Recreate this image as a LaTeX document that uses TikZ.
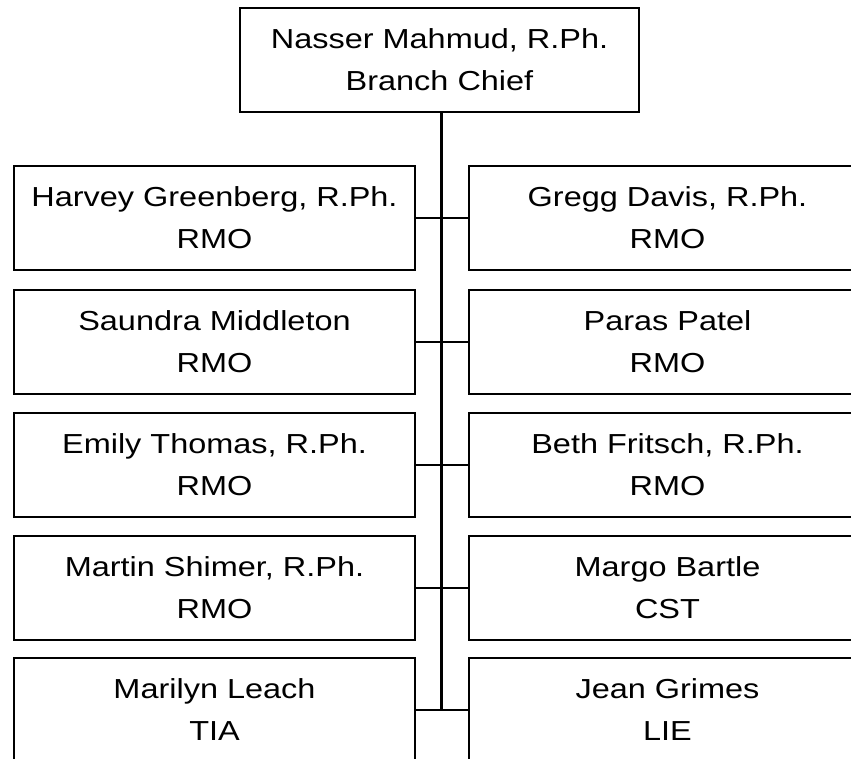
\documentclass[tikz,border=0pt]{standalone}
\usepackage{fontspec}
\setmainfont[FakeStretch=1.18]{Liberation Sans}
\begin{document}
\begin{tikzpicture}[x=1pt,y=-1pt,
  box/.style={draw, line width=2.3pt, rectangle, inner sep=0pt, align=center,
    minimum height=104pt, font=\fontsize{27.5}{42}\selectfont},
  lbox/.style={box, minimum width=401pt},
  rbox/.style={box, minimum width=397pt},
  link/.style={line width=2.2pt}]
\useasboundingbox (0,0) rectangle (851,759);
\clip (0,0) rectangle (851,759);
\node[box, minimum width=399pt] (chief) at (439.5,60) {Nasser Mahmud, R.Ph.\\Branch Chief};
\node[lbox] (l1) at (214.5,218) {Harvey Greenberg, R.Ph.\\RMO};
\node[lbox] (l2) at (214.5,342) {Saundra Middleton\\RMO};
\node[lbox] (l3) at (214.5,465) {Emily Thomas, R.Ph.\\RMO};
\node[lbox] (l4) at (214.5,588) {Martin Shimer, R.Ph.\\RMO};
\node[lbox] (l5) at (214.5,710) {Marilyn Leach\\TIA};
\node[rbox] (r1) at (667.5,218) {Gregg Davis, R.Ph.\\RMO};
\node[rbox] (r2) at (667.5,342) {Paras Patel\\RMO};
\node[rbox] (r3) at (667.5,465) {Beth Fritsch, R.Ph.\\RMO};
\node[rbox] (r4) at (667.5,588) {Margo Bartle\\CST};
\node[rbox] (r5) at (667.5,710) {Jean Grimes\\LIE};
\coordinate (top) at ([xshift=2pt]chief.south);
\draw[link] (top) -- (top |- l5.east);
\foreach \i in {1,...,5} {
  \draw[link] (l\i.east) -- (r\i.west);
}
\end{tikzpicture}
\end{document}
